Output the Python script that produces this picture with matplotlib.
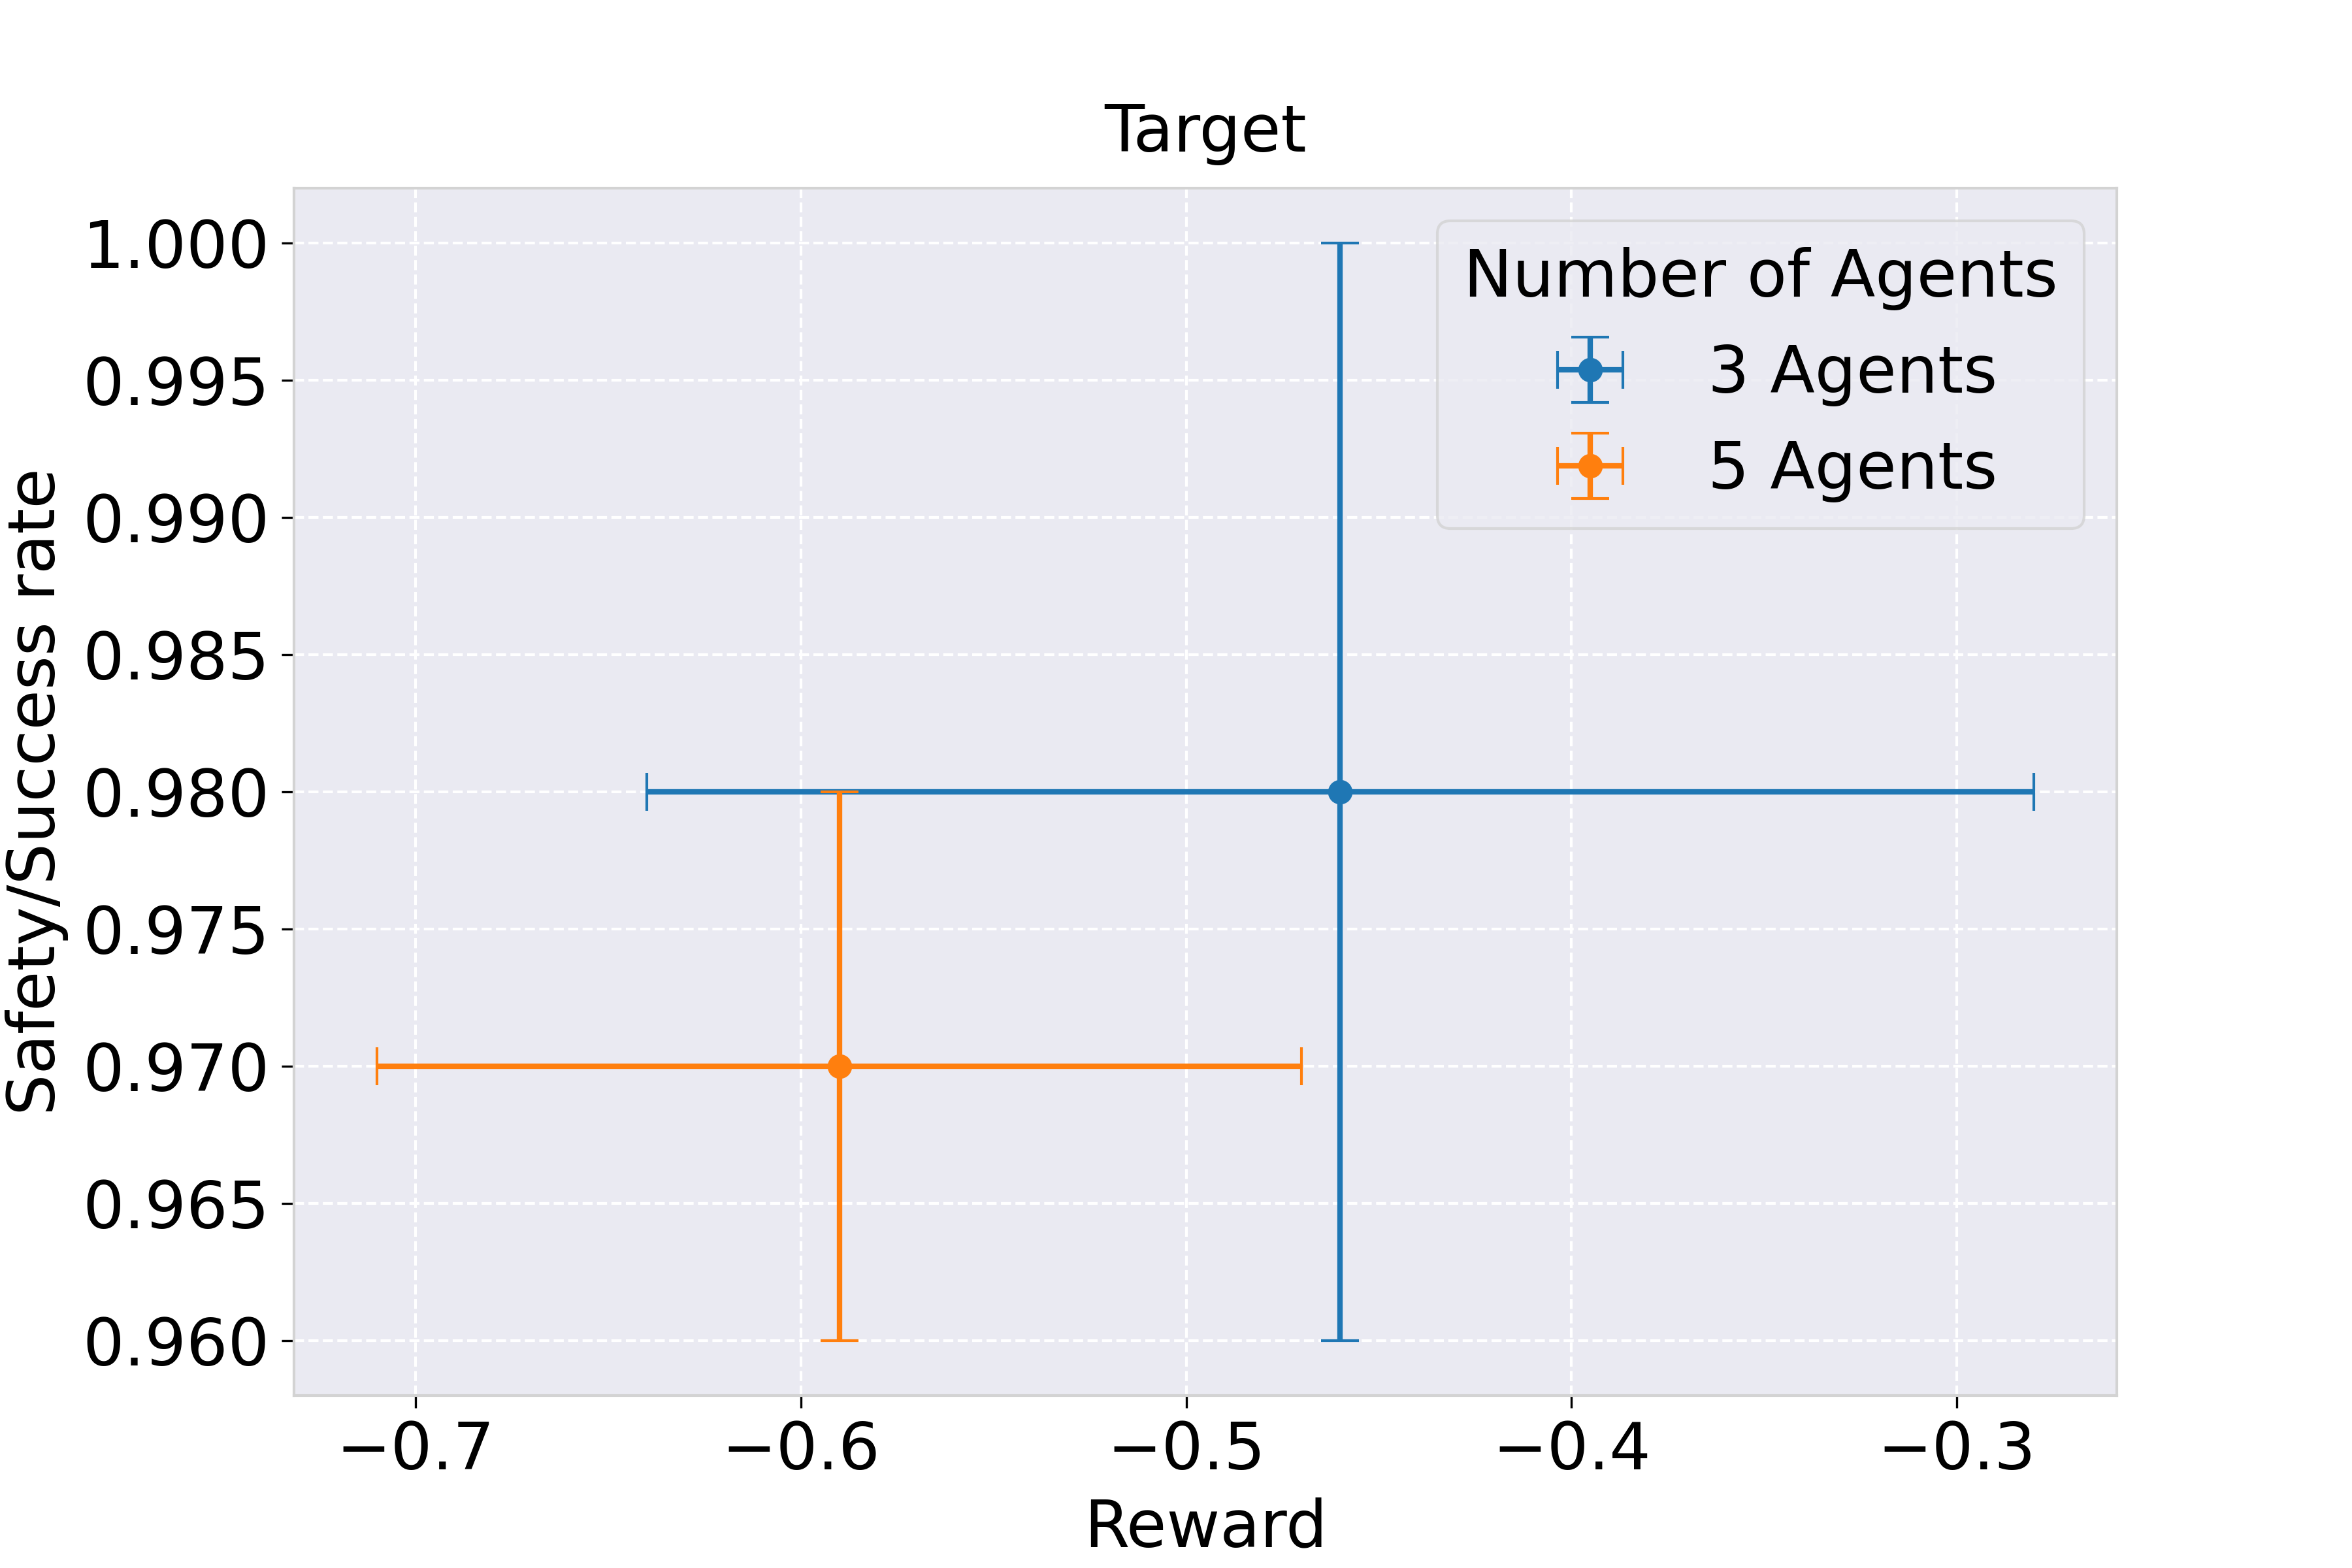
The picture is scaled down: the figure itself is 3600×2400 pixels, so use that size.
import matplotlib
matplotlib.use('Agg')
import matplotlib.pyplot as plt

labels = ['3 Agents', '5 Agents']
reward_mean = [-0.46, -0.59]
reward_err = [0.18, 0.12]
rate_mean = [0.98, 0.97]
rate_err = [0.02, 0.01]
colors = ['#1f77b4', '#ff7f0e']

plt.rcParams['font.family'] = ['DejaVu Sans']
plt.rcParams['font.size'] = 24

bg = '#eaeaf2'
fig, ax = plt.subplots(figsize=(12, 8), dpi=300)
ax.set_facecolor(bg)

for lab, x, xe, y, ye, c in zip(labels, reward_mean, reward_err, rate_mean, rate_err, colors):
    ax.errorbar(x, y, xerr=xe, yerr=ye, fmt='o', color=c, ms=8, lw=2,
                capsize=7, label=lab)

ax.grid(True, color='white', linestyle='--', linewidth=1)
ax.set_axisbelow(True)
for s in ax.spines.values():
    s.set_color('#d3d3d3')
    s.set_linewidth(1.0)
ax.tick_params(length=4.5, pad=4.5)

ax.set_xlabel('Reward', fontsize=24, labelpad=5)
ax.set_ylabel('Safety/Success rate', fontsize=24, labelpad=5)
ax.set_title('Target', fontsize=24, pad=13.5)
leg = ax.legend(title='Number of Agents', loc='upper right', edgecolor='#d3d3d3',
                facecolor=bg, framealpha=0.8, title_fontsize=24, fontsize=24)

fig.savefig('out.png', dpi=300)
